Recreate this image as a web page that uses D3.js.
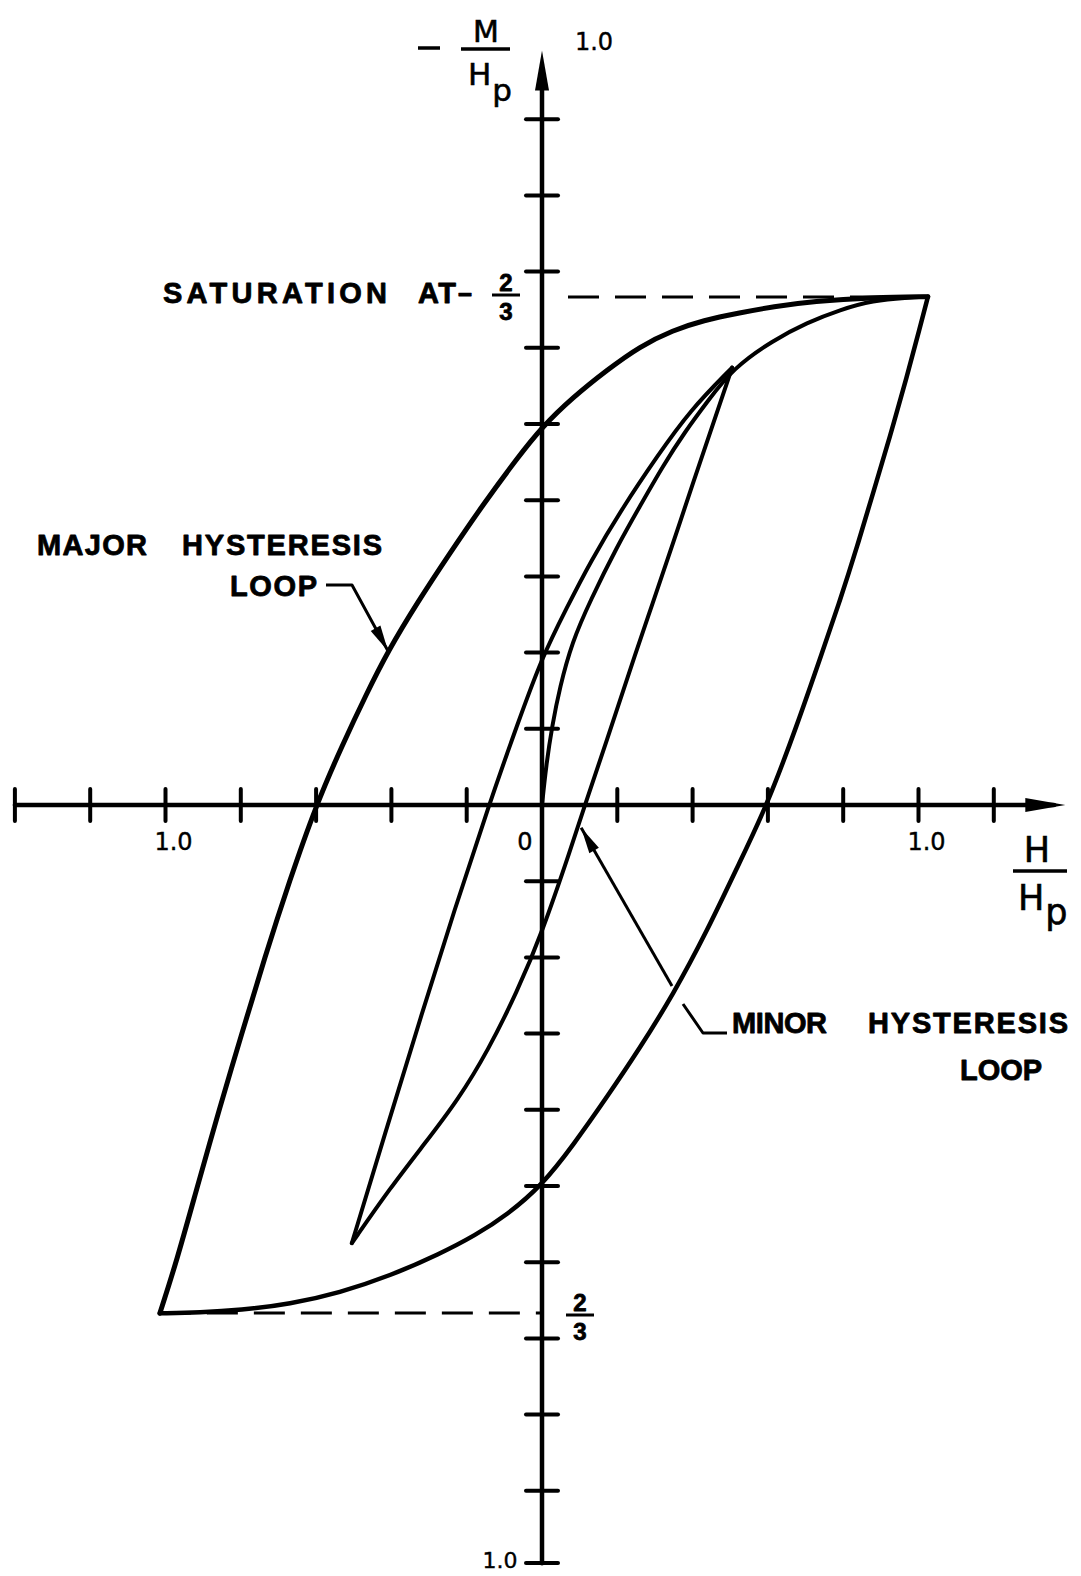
<!DOCTYPE html>
<html>
<head>
<meta charset="utf-8">
<script src="https://cdn.jsdelivr.net/npm/d3@7"></script>
<style>
  html, body { margin: 0; padding: 0; background: #fff; }
  svg { display: block; }
</style>
</head>
<body>
<svg id="chart" width="1081" height="1576"></svg>
<script>
// Tick positions on the H/Hp axis (origin left unmarked)
const hTicks = [-1.4, -1.2, -1.0, -0.8, -0.6, -0.4, -0.2, 0.2, 0.4, 0.6, 0.8, 1.0, 1.2];
// Tick positions on the -M/Hp axis
const mTicks = [-1.0, -0.9, -0.8, -0.7, -0.6, -0.5, -0.4, -0.3, -0.2, -0.1,
                0.1, 0.2, 0.3, 0.4, 0.5, 0.6, 0.7, 0.8, 0.9];
// Numbered ticks on the horizontal axis
const hTickLabels = [{ v: -1.0, t: "1.0" }, { v: 1.0, t: "1.0" }];
// Saturation level of -M/Hp
const saturation = 2 / 3;

// Major loop, branch coming down from positive saturation  [H/Hp, -M/Hp]
const majorDescending = [
  [1.025, 0.667], [0.880, 0.666], [0.720, 0.661], [0.614, 0.654], [0.526, 0.646],
  [0.428, 0.636], [0.348, 0.623], [0.260, 0.602], [0.173, 0.571], [0.082, 0.535],
  [0.000, 0.496], [-0.066, 0.455], [-0.157, 0.394], [-0.244, 0.331], [-0.332, 0.265],
  [-0.409, 0.202], [-0.467, 0.145], [-0.531, 0.078], [-0.600, 0.000], [-0.671, -0.100],
  [-0.737, -0.201], [-0.798, -0.301], [-0.857, -0.399], [-0.915, -0.500],
  [-0.970, -0.598], [-1.015, -0.667]
];
// Major loop, branch going up from negative saturation
const majorAscending = [
  [-1.015, -0.667], [-0.908, -0.666], [-0.802, -0.663], [-0.669, -0.655], [-0.537, -0.640],
  [-0.404, -0.618], [-0.271, -0.589], [-0.178, -0.565], [-0.093, -0.538], [0.000, -0.499],
  [0.082, -0.447], [0.173, -0.383], [0.260, -0.319], [0.348, -0.249], [0.438, -0.166],
  [0.526, -0.074], [0.598, 0.000], [0.677, 0.104], [0.746, 0.203], [0.792, 0.269],
  [0.837, 0.339], [0.879, 0.409], [0.924, 0.483], [0.969, 0.562], [1.004, 0.627],
  [1.025, 0.667]
];
// Initial magnetization curve from the origin to saturation
const initialCurve = [
  [0.000, 0.000], [0.011, 0.052], [0.027, 0.104], [0.047, 0.154], [0.080, 0.214],
  [0.128, 0.268], [0.200, 0.340], [0.260, 0.392], [0.321, 0.445], [0.380, 0.490],
  [0.440, 0.530], [0.507, 0.573], [0.614, 0.610], [0.704, 0.633], [0.792, 0.650],
  [0.879, 0.662], [0.969, 0.666], [1.025, 0.667]
];
// Minor loop, left branch (lower tip up to upper tip)
const minorLeft = [
  [-0.505, -0.575], [-0.410, -0.420], [-0.320, -0.275], [-0.232, -0.137], [-0.141, 0.000],
  [-0.066, 0.105], [0.000, 0.194], [0.066, 0.259], [0.127, 0.318], [0.215, 0.391],
  [0.305, 0.457], [0.393, 0.518], [0.505, 0.574]
];
// Minor loop, right branch (upper tip down to lower tip)
const minorRight = [
  [0.505, 0.574], [0.455, 0.501], [0.404, 0.427], [0.345, 0.339], [0.290, 0.259],
  [0.255, 0.209], [0.167, 0.077], [0.114, 0.000], [0.078, -0.055], [0.000, -0.168],
  [-0.066, -0.245], [-0.143, -0.322], [-0.223, -0.387], [-0.311, -0.444], [-0.404, -0.503],
  [-0.505, -0.575]
];

const svg = d3.select("#chart");
svg.append("rect").attr("width", 1081).attr("height", 1576).attr("fill", "#fff");

const x = d3.scaleLinear().domain([-1.4, 1.4]).range([14.9, 1069.1]);
const y = d3.scaleLinear().domain([-1, 1]).range([1567, 43]);
const x0 = x(0), y0 = y(0);
const ink = "#000";

const numFont = "'DejaVu Sans', 'Liberation Sans', sans-serif";
const capFont = "'Liberation Sans', Arial, sans-serif";

// ---- axes ----
const axes = svg.append("g").attr("stroke", ink).attr("stroke-linecap", "round");
axes.append("line")
  .attr("x1", x(-1.4)).attr("x2", x(1.36)).attr("y1", y0).attr("y2", y0)
  .attr("stroke-width", 4.5);
axes.append("line")
  .attr("x1", x0).attr("x2", x0).attr("y1", y(-0.995)).attr("y2", y(0.95))
  .attr("stroke-width", 4.5);

axes.selectAll(".ht").data(hTicks).join("line")
  .attr("x1", d => x(d)).attr("x2", d => x(d))
  .attr("y1", y0 - 16).attr("y2", y0 + 16).attr("stroke-width", 4);
axes.selectAll(".mt").data(mTicks).join("line")
  .attr("x1", x0 - 16).attr("x2", x0 + 16)
  .attr("y1", d => y(d) - (d === -1.0 ? 4 : 0)).attr("y2", d => y(d) - (d === -1.0 ? 4 : 0))
  .attr("stroke-width", 4);

// arrowheads at the ends of the axes
function arrowHead(tip, from, len, hw) {
  const dx = tip[0] - from[0], dy = tip[1] - from[1];
  const L = Math.hypot(dx, dy), ux = dx / L, uy = dy / L;
  const bx = tip[0] - ux * len, by = tip[1] - uy * len;
  return `M${tip[0]},${tip[1]}L${bx - uy * hw},${by + ux * hw}L${bx + uy * hw},${by - ux * hw}Z`;
}
svg.append("path").attr("d", arrowHead([x(1.39), y0], [x0, y0], 40, 7)).attr("fill", ink);
svg.append("path").attr("d", arrowHead([x0, y(0.99)], [x0, y0], 40, 7)).attr("fill", ink);

// ---- saturation guides ----
const guides = svg.append("g").attr("stroke", ink).attr("stroke-width", 3.2)
  .attr("stroke-dasharray", "31,16");
guides.append("line")
  .attr("x1", x0 + 26).attr("x2", x(1.025)).attr("y1", y(saturation)).attr("y2", y(saturation));
guides.append("line")
  .attr("x1", x(-1.015)).attr("x2", x0).attr("y1", y(-saturation)).attr("y2", y(-saturation));

// ---- curves ----
const line = d3.line()
  .x(d => x(d[0])).y(d => y(d[1]))
  .curve(d3.curveBasis);
const curves = svg.append("g").attr("fill", "none").attr("stroke", ink)
  .attr("stroke-linejoin", "round").attr("stroke-linecap", "round");
curves.append("path").attr("d", line(majorDescending)).attr("stroke-width", 5);
curves.append("path").attr("d", line(majorAscending)).attr("stroke-width", 4.5);
curves.append("path").attr("d", line(initialCurve)).attr("stroke-width", 4);
curves.append("path").attr("d", line(minorLeft)).attr("stroke-width", 4);
curves.append("path").attr("d", line(minorRight)).attr("stroke-width", 4);

// ---- tick numbers ----
const nums = svg.append("g").attr("font-family", numFont).attr("font-size", 24)
  .attr("fill", ink).attr("stroke", ink).attr("stroke-width", 0.4).attr("text-anchor", "middle");
nums.selectAll(".hl").data(hTickLabels).join("text")
  .attr("x", d => x(d.v) + 8).attr("y", y0 + 45).text(d => d.t);
nums.append("text").attr("x", x0 - 17).attr("y", y0 + 45).text("0");
nums.append("text").attr("x", x0 + 52).attr("y", y(1.0) + 7).text("1.0");
nums.append("text").attr("x", x0 - 42).attr("y", 1568).attr("font-size", 22).text("1.0");

// ---- axis titles ----
const titles = svg.append("g").attr("font-family", numFont).attr("fill", ink)
  .attr("stroke", ink).attr("stroke-width", 0.6);
// vertical: - M / Hp
titles.append("line").attr("x1", 418).attr("x2", 440).attr("y1", 48).attr("y2", 48)
  .attr("stroke-width", 3.5);
titles.append("text").attr("x", 486).attr("y", 42).attr("font-size", 30)
  .attr("text-anchor", "middle").text("M");
titles.append("line").attr("x1", 461).attr("x2", 510).attr("y1", 49).attr("y2", 49)
  .attr("stroke-width", 3.5);
titles.append("text").attr("x", 468).attr("y", 85).attr("font-size", 31)
  .text("H").append("tspan").attr("dy", 16).attr("dx", 1).text("p");
// horizontal: H / Hp
titles.append("text").attr("x", 1037).attr("y", 862).attr("font-size", 35)
  .attr("text-anchor", "middle").text("H");
titles.append("line").attr("x1", 1013).attr("x2", 1067).attr("y1", 871).attr("y2", 871)
  .attr("stroke-width", 3.5);
titles.append("text").attr("x", 1018).attr("y", 910).attr("font-size", 35)
  .text("H").append("tspan").attr("dy", 14).attr("dx", 1).text("p");

// ---- annotations ----
const notes = svg.append("g").attr("font-family", capFont).attr("font-weight", 700)
  .attr("font-size", 29).attr("fill", ink).attr("stroke", ink).attr("stroke-width", 0.8)
  .attr("stroke-linejoin", "round");
function word(txt, x1, x2, base) {
  notes.append("text").attr("x", x1).attr("y", base)
    .attr("textLength", x2 - x1).attr("lengthAdjust", "spacing").text(txt);
}
word("SATURATION", 163, 387, 303);
word("AT", 418, 456, 303);
notes.append("text").attr("x", 458).attr("y", 303).attr("textLength", 14)
  .attr("lengthAdjust", "spacingAndGlyphs").text("\u2013");
word("MAJOR", 37, 147, 555);
word("HYSTERESIS", 182, 382, 555);
word("LOOP", 230, 317, 596);
word("MINOR", 732, 827, 1033);
word("HYSTERESIS", 868, 1068, 1033);
word("LOOP", 960, 1042, 1080);

// fractions 2/3 beside the vertical axis
function fraction(cx, barY) {
  notes.append("text").attr("x", cx).attr("y", barY - 4).attr("font-size", 24)
    .attr("text-anchor", "middle").text("2");
  notes.append("line").attr("x1", cx - 14).attr("x2", cx + 14).attr("y1", barY).attr("y2", barY)
    .attr("stroke-width", 3);
  notes.append("text").attr("x", cx).attr("y", barY + 25).attr("font-size", 24)
    .attr("text-anchor", "middle").text("3");
}
fraction(506, y(saturation) - 2);
fraction(580, y(-saturation) + 2);

// leader lines with arrowheads pointing at the loops
const leaders = svg.append("g").attr("fill", "none").attr("stroke", ink)
  .attr("stroke-width", 3).attr("stroke-linejoin", "round");
const majorTip = [x(-0.409), y(0.202)];
leaders.append("polyline").attr("points", [[326, 585], [352, 585], majorTip].join(" "));
svg.append("path").attr("d", arrowHead(majorTip, [352, 585], 26, 5.5)).attr("fill", ink);

const minorTip = [x(0.104), y(-0.030)];
leaders.append("polyline").attr("points", [[727, 1033], [703, 1033], [683, 1004]].join(" "));
leaders.append("polyline").attr("points", [[672, 986], minorTip].join(" "));
svg.append("path").attr("d", arrowHead(minorTip, [672, 986], 26, 5.5)).attr("fill", ink);
</script>
</body>
</html>
